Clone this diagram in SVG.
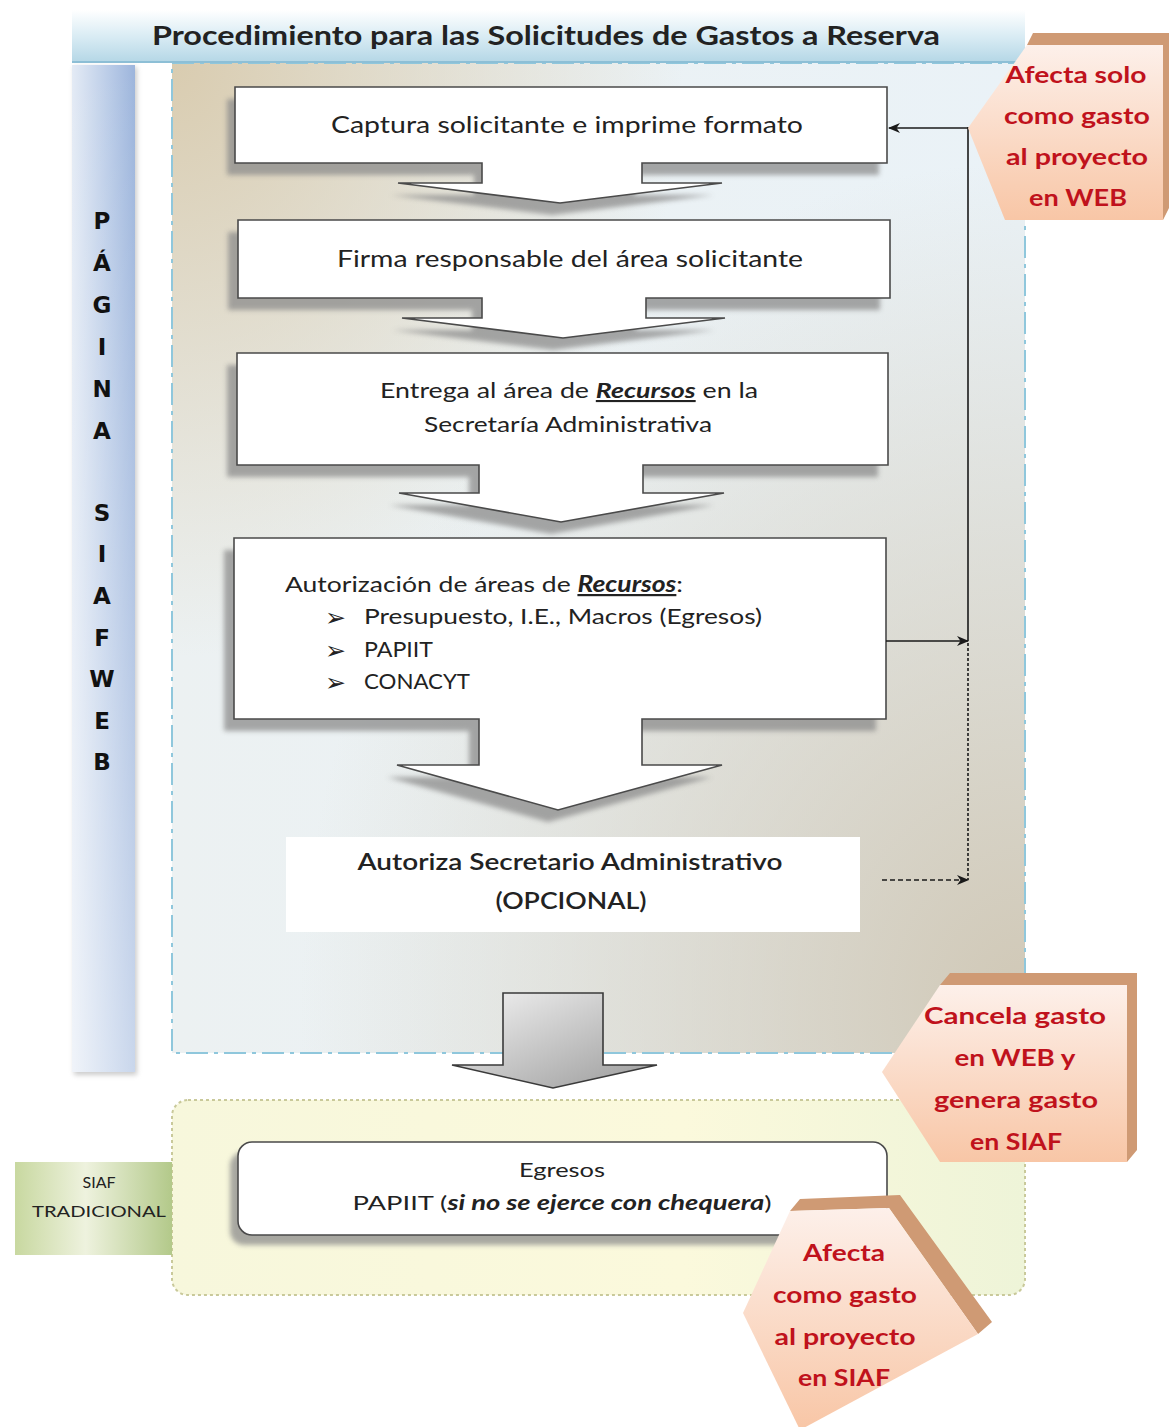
<svg xmlns="http://www.w3.org/2000/svg" width="1169" height="1427" viewBox="0 0 1169 1427">
<defs>
<style>
.t{font-family:Lato,"Open Sans","Liberation Sans",sans-serif;fill:#222;}
.b{font-weight:bold;}
.red{font-family:Lato,"Open Sans","Liberation Sans",sans-serif;font-weight:bold;fill:#c0121c;font-size:23px;text-anchor:middle;}
.box{fill:#fff;stroke:#4a4a4a;stroke-width:1.6;}
.shadow{fill:#8c8c8c;opacity:0.75;filter:url(#blur);}
.conn{stroke:#1a1a1a;stroke-width:1.6;fill:none;}
.back{fill:#cf9a74;}
.vl{font-family:"DejaVu Sans",Verdana,sans-serif;font-weight:bold;font-size:23px;fill:#111;text-anchor:middle;}
.rk{font-weight:bold;font-style:italic;text-decoration:underline;}
.bul{font-family:"DejaVu Sans",sans-serif;font-size:25px;fill:#222;}
</style>
<filter id="blur" x="-10%" y="-10%" width="120%" height="130%"><feGaussianBlur stdDeviation="2.5"/></filter>
<linearGradient id="gTitle" x1="0" y1="0" x2="0" y2="1">
<stop offset="0" stop-color="#ffffff"/><stop offset="0.55" stop-color="#d6eaf3"/><stop offset="1" stop-color="#b5d7e6"/>
</linearGradient>
<linearGradient id="gBar" x1="0" y1="0" x2="1" y2="0">
<stop offset="0" stop-color="#e4ebf5"/><stop offset="0.6" stop-color="#b9cbe7"/><stop offset="1" stop-color="#9db5dc"/>
</linearGradient>
<linearGradient id="gBarV" x1="0" y1="0" x2="0" y2="1">
<stop offset="0" stop-color="#ffffff" stop-opacity="0"/><stop offset="1" stop-color="#ffffff" stop-opacity="0.45"/>
</linearGradient>
<linearGradient id="gPanel" x1="0" y1="0" x2="1" y2="0">
<stop offset="0" stop-color="#ecf1f2"/><stop offset="1" stop-color="#eaf2f7"/>
</linearGradient>
<radialGradient id="gTL" cx="0" cy="0" r="0.6">
<stop offset="0" stop-color="#d9ccb0" stop-opacity="1"/><stop offset="1" stop-color="#d9ccb0" stop-opacity="0"/>
</radialGradient>
<radialGradient id="gBR" cx="1" cy="0.95" r="0.85">
<stop offset="0" stop-color="#d0c8b6" stop-opacity="1"/><stop offset="1" stop-color="#d0c8b6" stop-opacity="0"/>
</radialGradient>
<linearGradient id="gLow" x1="0" y1="0" x2="1" y2="0">
<stop offset="0" stop-color="#f7f7dc"/><stop offset="0.6" stop-color="#fbf9dc"/><stop offset="1" stop-color="#eef4d8"/>
</linearGradient>
<linearGradient id="gSiaf" x1="0" y1="0" x2="1" y2="0">
<stop offset="0" stop-color="#c8d8a0"/><stop offset="0.45" stop-color="#eef2de"/><stop offset="1" stop-color="#b3c98a"/>
</linearGradient>
<linearGradient id="gPeach" x1="0" y1="0" x2="0" y2="1">
<stop offset="0" stop-color="#fdf0ea"/><stop offset="1" stop-color="#f8c6a6"/>
</linearGradient>
<linearGradient id="gGray" x1="0" y1="0" x2="1" y2="1">
<stop offset="0" stop-color="#f4f4f4"/><stop offset="1" stop-color="#9a9a9a"/>
</linearGradient>
<marker id="ah" viewBox="0 0 12 10" refX="11" refY="5" markerWidth="12" markerHeight="10" markerUnits="userSpaceOnUse" orient="auto">
<path d="M0,0 L12,5 L0,10 L3.5,5 Z" fill="#1a1a1a"/>
</marker>
</defs>

<rect width="1169" height="1427" fill="#ffffff"/>

<g id="panel-web">
<rect x="172" y="63" width="853" height="990" fill="url(#gPanel)"/>
<rect x="172" y="63" width="853" height="990" fill="url(#gTL)"/>
<rect x="172" y="63" width="853" height="990" fill="url(#gBR)"/>
<rect x="172" y="63" width="853" height="990" fill="none" stroke="#8fc7dc" stroke-width="2" stroke-dasharray="22 6 4 6"/>
</g>

<g id="title">
<rect x="72" y="10" width="953" height="52" fill="url(#gTitle)"/>
<line x1="72" y1="62" x2="1025" y2="62" stroke="#8dbfd6" stroke-width="2"/>
<text class="t b" x="546" y="45" font-size="27" text-anchor="middle" textLength="788" lengthAdjust="spacingAndGlyphs">Procedimiento para las Solicitudes de Gastos a Reserva</text>
</g>

<g id="bar-pagina">
<rect x="74" y="67" width="63" height="1008" fill="#9a9a9a" opacity="0.5" filter="url(#blur)"/>
<rect x="72" y="65" width="63" height="1007" fill="url(#gBar)"/>
<rect x="72" y="65" width="63" height="1007" fill="url(#gBarV)"/>
<text class="vl" x="102" y="229">P</text>
<text class="vl" x="102" y="271">Á</text>
<text class="vl" x="102" y="313">G</text>
<text class="vl" x="102" y="355">I</text>
<text class="vl" x="102" y="397">N</text>
<text class="vl" x="102" y="439">A</text>
<text class="vl" x="102" y="521">S</text>
<text class="vl" x="102" y="562">I</text>
<text class="vl" x="102" y="604">A</text>
<text class="vl" x="102" y="646">F</text>
<text class="vl" x="102" y="687">W</text>
<text class="vl" x="102" y="729">E</text>
<text class="vl" x="102" y="770">B</text>
</g>

<g id="panel-siaf">
<rect x="172" y="1100" width="853" height="195" rx="16" fill="url(#gLow)" stroke="#c9c99a" stroke-width="2" stroke-dasharray="3 3"/>
</g>

<g id="siaf-tradicional">
<rect x="15" y="1162" width="157" height="93" fill="url(#gSiaf)"/>
<text class="t" x="99" y="1188" font-size="16" text-anchor="middle" fill="#333">SIAF</text>
<text class="t" x="99" y="1217" font-size="16" text-anchor="middle" textLength="134" lengthAdjust="spacingAndGlyphs">TRADICIONAL</text>
</g>

<g id="step1">
<path class="shadow" transform="translate(-8,12)" d="M235,87 H887 V163 H642 V183 L722,183 L560,203 L398,183 H482 V163 H235 Z"/>
<path class="box" d="M235,87 H887 V163 H642 V183 L722,183 L560,203 L398,183 H482 V163 H235 Z"/>
<text class="t" x="567" y="133" font-size="24" text-anchor="middle" textLength="472" lengthAdjust="spacingAndGlyphs">Captura solicitante e imprime formato</text>
</g>

<g id="step2">
<path class="shadow" transform="translate(-10,12)" d="M238,220 H890 V298 H646 V318 L725,318 L563,338 L402,318 H482 V298 H238 Z"/>
<path class="box" d="M238,220 H890 V298 H646 V318 L725,318 L563,338 L402,318 H482 V298 H238 Z"/>
<text class="t" x="570" y="267" font-size="24" text-anchor="middle" textLength="466" lengthAdjust="spacingAndGlyphs">Firma responsable del área solicitante</text>
</g>

<g id="step3">
<path class="shadow" transform="translate(-10,12)" d="M237,353 H888 V465 H643 V493 L724,493 L561,522 L399,493 H479 V465 H237 Z"/>
<path class="box" d="M237,353 H888 V465 H643 V493 L724,493 L561,522 L399,493 H479 V465 H237 Z"/>
<text class="t" x="569" y="398" font-size="21" text-anchor="middle" fill="#333" textLength="378" lengthAdjust="spacingAndGlyphs">Entrega al área de <tspan class="rk">Recursos</tspan> en la</text>
<text class="t" x="568" y="432" font-size="21" text-anchor="middle" fill="#333" textLength="288" lengthAdjust="spacingAndGlyphs">Secretaría Administrativa</text>
</g>

<g id="step4">
<path class="shadow" transform="translate(-10,12)" d="M234,538 H886 V719 H642 V765 L722,765 L558,810 L397,765 H479 V719 H234 Z"/>
<path class="box" d="M234,538 H886 V719 H642 V765 L722,765 L558,810 L397,765 H479 V719 H234 Z"/>
<text class="t" x="285" y="592" font-size="22" fill="#333" textLength="398" lengthAdjust="spacingAndGlyphs">Autorización de áreas de <tspan class="rk">Recursos</tspan>:</text>
<text class="bul" x="325" y="626">➢</text>
<text class="bul" x="325" y="659">➢</text>
<text class="bul" x="325" y="691">➢</text>
<text class="t" x="364" y="624" font-size="22" fill="#333" textLength="398" lengthAdjust="spacingAndGlyphs">Presupuesto, I.E., Macros (Egresos)</text>
<text class="t" x="364" y="657" font-size="22" fill="#333" textLength="69" lengthAdjust="spacingAndGlyphs">PAPIIT</text>
<text class="t" x="364" y="689" font-size="22" fill="#333" textLength="106" lengthAdjust="spacingAndGlyphs">CONACYT</text>
</g>

<g id="step5">
<rect x="286" y="837" width="574" height="95" fill="#ffffff"/>
<text class="t" x="570" y="870" font-size="23" font-weight="600" text-anchor="middle" textLength="425" lengthAdjust="spacingAndGlyphs">Autoriza Secretario Administrativo</text>
<text class="t" x="571" y="909" font-size="23" font-weight="600" text-anchor="middle" textLength="151" lengthAdjust="spacingAndGlyphs">(OPCIONAL)</text>
</g>

<g id="big-arrow">
<path d="M503,993 H603 V1065 H657 L553,1088 L452,1065 H503 Z" fill="url(#gGray)" stroke="#3a3a3a" stroke-width="1.6"/>
</g>

<g id="egresos">
<rect class="shadow" x="230" y="1152" width="649" height="93" rx="14"/>
<rect class="box" x="238" y="1142" width="649" height="93" rx="14"/>
<text class="t" x="562" y="1177" font-size="20" text-anchor="middle" fill="#333" textLength="86" lengthAdjust="spacingAndGlyphs">Egresos</text>
<text class="t" x="562" y="1210" font-size="20" text-anchor="middle" fill="#333" textLength="419" lengthAdjust="spacingAndGlyphs">PAPIIT (<tspan font-weight="bold" font-style="italic">si no se ejerce con chequera</tspan>)</text>
</g>

<g id="connectors">
<line class="conn" x1="968" y1="128" x2="889" y2="128" marker-end="url(#ah)"/>
<line class="conn" x1="968" y1="127" x2="968" y2="641"/>
<line class="conn" x1="886" y1="641" x2="968" y2="641" marker-end="url(#ah)"/>
<line class="conn" x1="968" y1="643" x2="968" y2="880" stroke-dasharray="3 2"/>
<line class="conn" x1="882" y1="880" x2="968" y2="880" stroke-dasharray="5 3" marker-end="url(#ah)"/>
</g>

<g id="callout-web">
<polygon class="back" points="1027,45 1033,33 1169,33 1169,208 1163,220 1163,45"/>
<polygon points="1027,45 1163,45 1163,220 1005,220 968,128" fill="url(#gPeach)"/>
<text class="red" x="1076" y="83" textLength="141" lengthAdjust="spacingAndGlyphs">Afecta solo</text>
<text class="red" x="1077" y="124" textLength="146" lengthAdjust="spacingAndGlyphs">como gasto</text>
<text class="red" x="1077" y="165" textLength="142" lengthAdjust="spacingAndGlyphs">al proyecto</text>
<text class="red" x="1078" y="206" textLength="98" lengthAdjust="spacingAndGlyphs">en WEB</text>
</g>

<g id="callout-cancela">
<polygon class="back" points="940,985 950,973 1137,973 1137,1150 1127,1162 1127,985"/>
<polygon points="940,985 1127,985 1127,1162 940,1162 882,1072" fill="url(#gPeach)"/>
<text class="red" x="1015" y="1024" textLength="182" lengthAdjust="spacingAndGlyphs">Cancela  gasto</text>
<text class="red" x="1015" y="1066" textLength="121" lengthAdjust="spacingAndGlyphs">en WEB y</text>
<text class="red" x="1016" y="1108" textLength="164" lengthAdjust="spacingAndGlyphs">genera gasto</text>
<text class="red" x="1016" y="1150" textLength="92" lengthAdjust="spacingAndGlyphs">en SIAF</text>
</g>

<g id="callout-siaf">
<polygon class="back" points="790,1211 800,1199 900,1195 992,1322 978,1334 889,1208"/>
<polygon points="790,1211 889,1208 978,1334 800,1430 743,1313" fill="url(#gPeach)"/>
<text class="red" x="844" y="1261" textLength="82" lengthAdjust="spacingAndGlyphs">Afecta</text>
<text class="red" x="845" y="1303" textLength="144" lengthAdjust="spacingAndGlyphs">como gasto</text>
<text class="red" x="845" y="1345" textLength="141" lengthAdjust="spacingAndGlyphs">al proyecto</text>
<text class="red" x="844" y="1386" textLength="92" lengthAdjust="spacingAndGlyphs">en SIAF</text>
</g>
</svg>
